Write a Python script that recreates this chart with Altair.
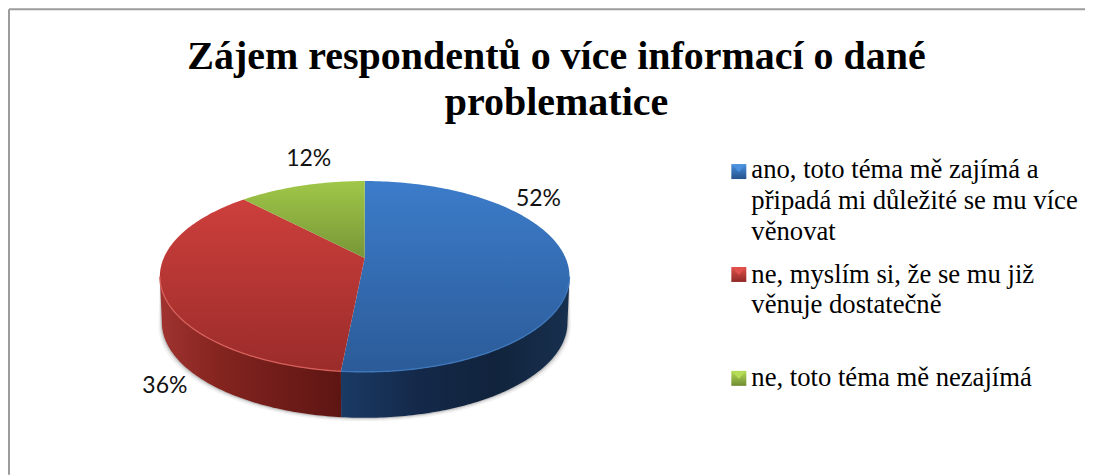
import math
import altair as alt
import pandas as pd

# ---- values ----
title_lines = ["Zájem respondentů o více informací o dané", "problematice"]
categories = ["ano", "ne_dost", "ne_zajem"]
label_values = ["52%", "36%", "12%"]
drawn_shares = [51.85, 38.1, 10.05]  # slice sizes as they are drawn on the tilted disc
legend_lines = [
    ["ano, toto téma mě zajímá a", "připadá mi důležité se mu více", "věnovat"],
    ["ne, myslím si, že se mu již", "věnuje dostatečně"],
    ["ne, toto téma mě nezajímá"],
]

# ---- styles and layout ----
top_stops = [("#3c7cca", "#2b5b98"), ("#cd3f3c", "#9a2c2a"), ("#a0c748", "#779637")]
rim_stops = [
    ["#1a3a64", "#14294a", "#11233c", "#17304f"],
    ["#a03330", "#84241f", "#701c19", "#5e1613"],
]
edge_colors = ["#3f78bc", "#d75f5a"]
legend_dark = ["#24528c", "#8f2a28", "#6f8c33"]
legend_light = ["#4a90dc", "#e0504c", "#b4dc54"]
label_xy = [(539, 206), (165, 393), (309, 166)]
legend_baselines = [[178, 209, 240], [283, 313], [386]]
legend_marker_top = [164, 267, 371]

CX, CY, RX, RY = 365, 276.5, 205, 95.5   # top ellipse
APEX_Y = 258                             # where the slices meet (perspective)
BY, BRX = 322.5, 203                     # bottom ellipse

X = alt.X("x:Q", axis=None, scale=alt.Scale(domain=[8, 1086], nice=False, zero=False))
Y = alt.Y("y:Q", axis=None, scale=alt.Scale(domain=[475, 8], nice=False, zero=False))


def ell(t, cy=CY, rx=RX, ry=RY):
    r = math.radians(t)
    return CX + rx * math.sin(r), cy - ry * math.cos(r)


def arc(a, b, **kw):
    n = max(2, int(abs(b - a)))
    return [ell(a + (b - a) * i / n, **kw) for i in range(n + 1)]


def grad(stops, horizontal=False):
    n = len(stops) - 1
    return alt.Gradient(
        gradient="linear",
        x1=0, y1=0,
        x2=1 if horizontal else 0,
        y2=0 if horizontal else 1,
        stops=[alt.GradientStop(offset=i / n, color=c) for i, c in enumerate(stops)],
    )


def poly(points, fill, **kw):
    df = pd.DataFrame([{"x": p[0], "y": p[1], "i": i} for i, p in enumerate(points + points[:1])])
    return alt.Chart(df).mark_line(fill=fill, strokeWidth=0, interpolate="linear", **kw).encode(
        x=X, y=Y, order=alt.Order("i:Q")
    )


def stroke(points, color, width):
    df = pd.DataFrame([{"x": p[0], "y": p[1], "i": i} for i, p in enumerate(points)])
    return alt.Chart(df).mark_line(color=color, strokeWidth=width).encode(
        x=X, y=Y, order=alt.Order("i:Q")
    )


def text(rows, **kw):
    return alt.Chart(pd.DataFrame(rows)).mark_text(baseline="alphabetic", **kw).encode(
        x=X, y=Y, text="t:N"
    )


# slice boundaries (clockwise from the top)
bounds = [0]
for s in drawn_shares:
    bounds.append(bounds[-1] + s * 3.6)

layers = []

# chart frame
frame = pd.DataFrame([{"x": 9, "y": 9, "x2": 1086, "y2": 9}, {"x": 9, "y": 9, "x2": 9, "y2": 475}])
layers.append(alt.Chart(frame).mark_rule(color="#9c9c9c", strokeWidth=2).encode(
    x=X, y=Y, x2="x2:Q", y2="y2:Q"))

# soft shadow round the side wall
for grow, op in [(3.5, 0.05), (2, 0.08), (1, 0.12)]:
    pts = arc(90, 270) + arc(270, 90, cy=BY + grow, rx=BRX + grow)
    layers.append(poly(pts, "#000000", opacity=op))

# side walls: blue from the right edge to the slice boundary, red on to the left edge
rim_ranges = [(90, bounds[1]), (bounds[1], 270)]
for k, (a, b) in enumerate(rim_ranges):
    pts = arc(a, b) + arc(b, a, cy=BY, rx=BRX)
    layers.append(poly(pts, grad(rim_stops[k], True)))

# top faces
for k in range(3):
    pts = [(CX, APEX_Y)] + arc(bounds[k], bounds[k + 1])
    layers.append(poly(pts, grad(list(top_stops[k]))))

# lit edge between top face and wall
for k, (a, b) in enumerate(rim_ranges):
    layers.append(stroke(arc(a, b), edge_colors[k], 1.3))

# data labels
layers.append(text(
    [{"x": xy[0], "y": xy[1], "t": v} for xy, v in zip(label_xy, label_values)],
    font="Lato", fontSize=23, align="center", color="#111111",
))

# title
layers.append(text(
    [{"x": 557, "y": 69, "t": title_lines[0]}, {"x": 557, "y": 115, "t": title_lines[1]}],
    font="Liberation Serif", fontWeight="bold", fontSize=40, align="center", color="#000000",
))

# legend
for k in range(3):
    t = legend_marker_top[k]
    square = [(732, t), (747, t), (747, t + 15), (732, t + 15)]
    layers.append(poly(square, grad([legend_light[k], legend_dark[k]])))
    tri = [(733, t + 1), (746, t + 1), (739.5, t + 8)]
    layers.append(poly(tri, legend_light[k]))
    layers.append(text(
        [{"x": 752, "y": yy, "t": ln} for yy, ln in zip(legend_baselines[k], legend_lines[k])],
        font="Liberation Serif", fontSize=26.7, align="left", color="#000000",
    ))

chart = alt.layer(*layers).properties(
    width=1078, height=467, padding=0, background="#ffffff",
).configure_view(stroke=None)

chart.save("out.html", embed_options={"renderer": "svg", "actions": False})
